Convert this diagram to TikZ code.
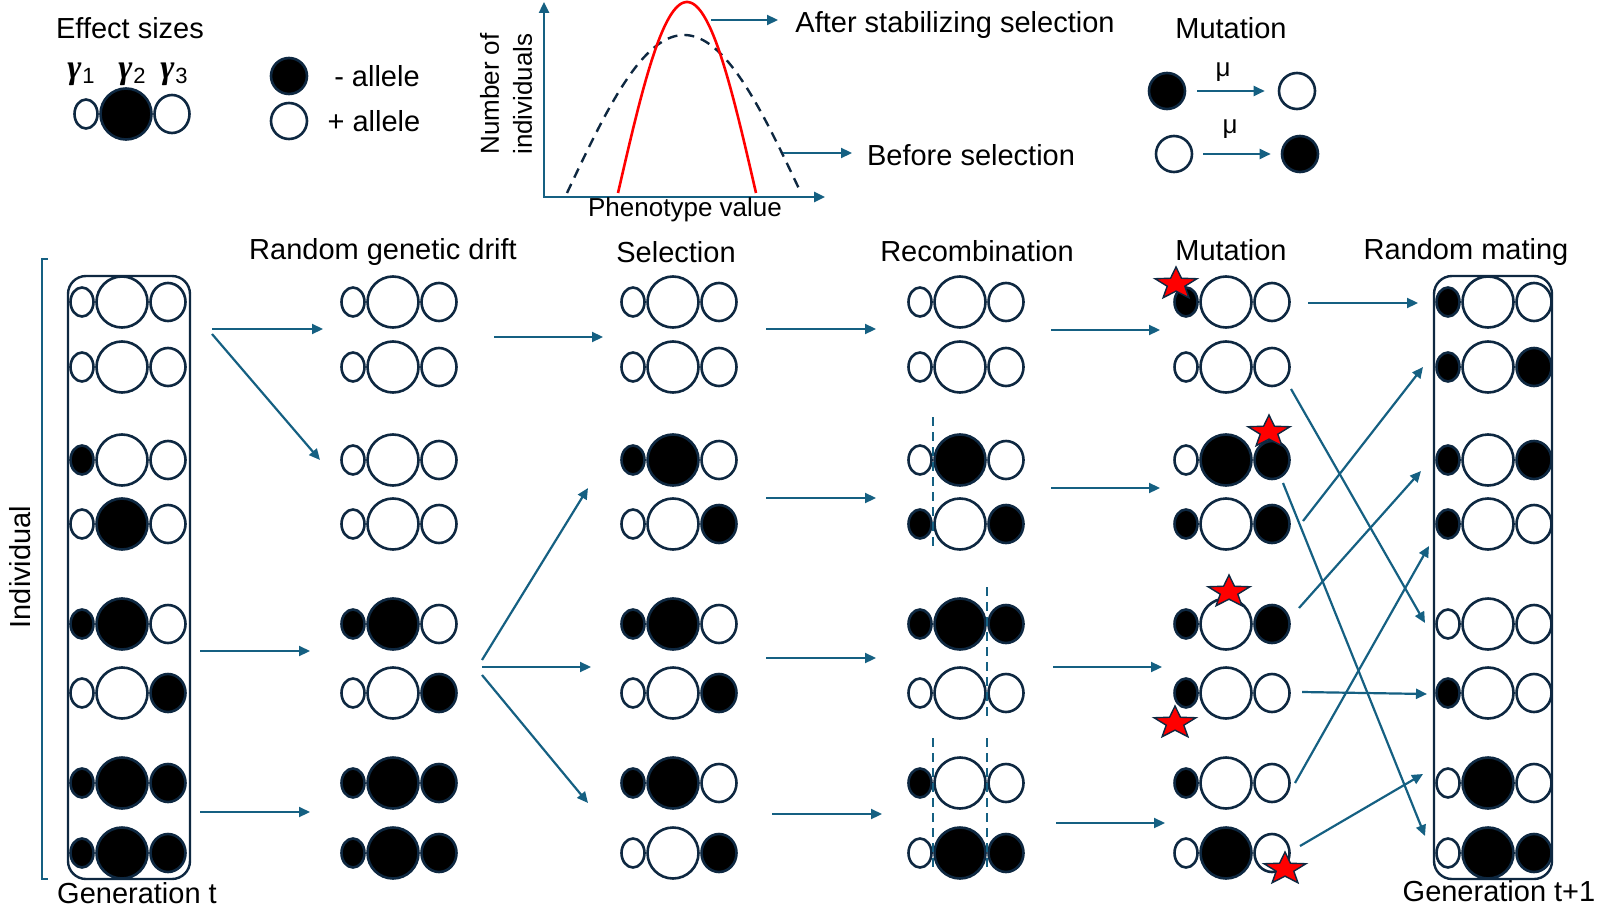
\documentclass[tikz,border=0pt]{standalone}
\usepackage{fontspec}
\setmainfont{Liberation Sans}
\newfontfamily\gfont{Liberation Serif}
\usetikzlibrary{arrows.meta,shapes.geometric}
\definecolor{arrowblue}{HTML}{156082}
\definecolor{outl}{HTML}{0E2841}
\colorlet{B}{black}
\colorlet{W}{white}
\newcommand{\chrom}[6]{%
  \node[allele, minimum width=23pt, minimum height=29pt, fill=#4] (#1a) at ({#2-40},#3) {};
  \node[allele, minimum width=35pt, minimum height=38pt, fill=#6] (#1c) at ({#2+46},#3) {};
  \node[allele, minimum size=51pt, fill=#5] (#1b) at (#2,#3) {};
}
\newcommand{\redstar}[2]{%
  \begin{scope}[shift={(#1,#2)}, xscale=22, yscale=17]
    \draw[mstar] (270:1) -- (306:.42) -- (342:1) -- (18:.42) -- (54:1) -- (90:.42)
      -- (126:1) -- (162:.42) -- (198:1) -- (234:.42) -- cycle;
  \end{scope}
}
\newcommand{\gam}[1]{{\gfont\bfseries\itshape γ}\kern1pt\raisebox{-5pt}{\fontsize{22}{24}\selectfont #1}}
\begin{document}
\begin{tikzpicture}[x=1pt,y=-1pt,
  allele/.style={ellipse, draw=outl, line width=2.6pt, inner sep=0pt, outer sep=0pt},
  arr/.style={draw=arrowblue, line width=2.2pt, -{Triangle[length=11pt,width=10pt]}},
  lbl/.style={inner sep=0pt, font=\fontsize{29}{34}\selectfont},
  slbl/.style={inner sep=0pt, font=\fontsize{26}{33}\selectfont},
  gsty/.style={inner sep=0pt, font=\fontsize{34}{40}\selectfont},
  genbox/.style={draw=outl, line width=2.4pt, rounded corners=18pt, inner sep=0pt},
  cut/.style={draw=arrowblue, line width=2.2pt, dash pattern=on 9pt off 6pt},
  mstar/.style={fill=red, draw=outl, line width=1.4pt, line join=miter},
  dot/.style={circle, draw=outl, line width=2.6pt, minimum size=36pt, inner sep=0pt},
]
\useasboundingbox (0,0) rectangle (1600,909);

% ---------- legend: effect sizes ----------
\node[lbl] (tEff) at (130,28) {Effect sizes};
\node[gsty] (g1) at (81,74) {\gam{1}};
\node[gsty] (g2) at (132,74) {\gam{2}};
\node[gsty] (g3) at (174,74) {\gam{3}};
\chrom{leg}{126}{114}{W}{B}{W}

\node[dot, fill=black] (dMinus) at (289,76) {};
\node[dot, fill=white] (dPlus) at (289,121) {};
\node[lbl] (tMinus) at (377,76) {- allele};
\node[lbl] (tPlus) at (374,121) {+ allele};

% ---------- legend: selection graph ----------
\coordinate (ytop) at (544,2);
\coordinate (orig) at (544,197);
\coordinate (xend) at (825,197);
\draw[draw=arrowblue, line width=2.4pt, {Triangle[length=11pt,width=10pt]}-{Triangle[length=11pt,width=10pt]}] (ytop) -- (orig) -- (xend);
\draw[outl, line width=2.4pt, dash pattern=on 10pt off 7pt]
  plot[domain=-117:117, samples=80, smooth] ({684+\x},{193-158*cos(90*\x/117)});
\draw[red, line width=2.6pt]
  plot[domain=-69:69, samples=80, smooth] ({687+\x},{193-191*cos(90*\x/69)});
\node[slbl, rotate=90, align=center] (tNum) at (506,94) {Number of\\individuals};
\node[slbl] (tPhen) at (685,210) {Phenotype value};
\coordinate (asS) at (711,20);
\coordinate (asE) at (778,20);
\draw[arr] (asS) -- (asE);
\node[lbl] (tAfter) at (955,25) {After stabilizing selection};
\coordinate (bsS) at (783,153);
\coordinate (bsE) at (852,153);
\draw[arr] (bsS) -- (bsE);
\node[lbl] (tBefore) at (971,155) {Before selection};

% ---------- legend: mutation ----------
\node[lbl] (tMutL) at (1231,28) {Mutation};
\node[dot, fill=black] (m1a) at (1167,91) {};
\node[dot, fill=white] (m1b) at (1297,91) {};
\node[dot, fill=white] (m2a) at (1174,154) {};
\node[dot, fill=black] (m2b) at (1300,154) {};
\draw[arr, shorten <=11pt, shorten >=13pt] (m1a.east) -- (m1b.west);
\draw[arr, shorten <=10pt, shorten >=10pt] (m2a.east) -- (m2b.west);
\node[slbl, anchor=base] (mu1) at (1223,77) {μ};
\node[slbl, anchor=base] (mu2) at (1230,134) {μ};

% ---------- headers ----------
\node[lbl] (hDrift) at (383,252) {Random genetic drift};
\node[lbl] (hSel) at (676,252) {Selection};
\node[lbl] (hRec) at (977,251) {Recombination};
\node[lbl] (hMut) at (1231,250) {Mutation};
\node[lbl] (hMat) at (1466,252) {Random mating};
\node[lbl] (hGt) at (137,893) {Generation t};
\node[lbl] (hGt1) at (1499,891) {Generation t+1};
\node[lbl, rotate=90] (hInd) at (20,567) {Individual};
\draw[arrowblue, line width=1.8pt] (48,259) -- (42,259) -- (42,879) -- (48,879);

% ---------- generation boxes ----------
\node[genbox, minimum width=122pt, minimum height=603pt] (box1) at (129,577.5) {};
\node[genbox, minimum width=118pt, minimum height=603pt] (box6) at (1493,577.5) {};

% ---------- column 1: generation t ----------
\chrom{c1r1}{122}{302}{W}{W}{W}
\chrom{c1r2}{122}{367}{W}{W}{W}
\chrom{c1r3}{122}{460}{B}{W}{W}
\chrom{c1r4}{122}{524}{W}{B}{W}
\chrom{c1r5}{122}{624}{B}{B}{W}
\chrom{c1r6}{122}{693}{W}{W}{B}
\chrom{c1r7}{122}{783}{B}{B}{B}
\chrom{c1r8}{122}{853}{B}{B}{B}
% ---------- column 2: drift ----------
\chrom{c2r1}{393}{302}{W}{W}{W}
\chrom{c2r2}{393}{367}{W}{W}{W}
\chrom{c2r3}{393}{460}{W}{W}{W}
\chrom{c2r4}{393}{524}{W}{W}{W}
\chrom{c2r5}{393}{624}{B}{B}{W}
\chrom{c2r6}{393}{693}{W}{W}{B}
\chrom{c2r7}{393}{783}{B}{B}{B}
\chrom{c2r8}{393}{853}{B}{B}{B}
% ---------- column 3: selection ----------
\chrom{c3r1}{673}{302}{W}{W}{W}
\chrom{c3r2}{673}{367}{W}{W}{W}
\chrom{c3r3}{673}{460}{B}{B}{W}
\chrom{c3r4}{673}{524}{W}{W}{B}
\chrom{c3r5}{673}{624}{B}{B}{W}
\chrom{c3r6}{673}{693}{W}{W}{B}
\chrom{c3r7}{673}{783}{B}{B}{W}
\chrom{c3r8}{673}{853}{W}{W}{B}
% ---------- column 4: recombination ----------
\chrom{c4r1}{960}{302}{W}{W}{W}
\chrom{c4r2}{960}{367}{W}{W}{W}
\chrom{c4r3}{960}{460}{W}{B}{W}
\chrom{c4r4}{960}{524}{B}{W}{B}
\chrom{c4r5}{960}{624}{B}{B}{B}
\chrom{c4r6}{960}{693}{W}{W}{W}
\chrom{c4r7}{960}{783}{B}{W}{W}
\chrom{c4r8}{960}{853}{W}{B}{B}
\draw[cut] (933,417) -- (933,550);
\draw[cut] (987,587) -- (987,720);
\draw[cut] (933,738) -- (933,872);
\draw[cut] (987,738) -- (987,872);
% ---------- column 5: mutation ----------
\chrom{c5r1}{1226}{302}{B}{W}{W}
\chrom{c5r2}{1226}{367}{W}{W}{W}
\chrom{c5r3}{1226}{460}{W}{B}{B}
\chrom{c5r4}{1226}{524}{B}{W}{B}
\chrom{c5r5}{1226}{624}{B}{W}{B}
\chrom{c5r6}{1226}{693}{B}{W}{W}
\chrom{c5r7}{1226}{783}{B}{W}{W}
\chrom{c5r8}{1226}{853}{W}{B}{W}
\redstar{1176}{284}
\redstar{1269}{432}
\redstar{1229}{592}
\redstar{1175}{723}
\redstar{1285}{869}
% ---------- column 6: generation t+1 ----------
\chrom{c6r1}{1488}{302}{B}{W}{W}
\chrom{c6r2}{1488}{367}{B}{W}{B}
\chrom{c6r3}{1488}{460}{B}{W}{B}
\chrom{c6r4}{1488}{524}{B}{W}{W}
\chrom{c6r5}{1488}{624}{W}{W}{W}
\chrom{c6r6}{1488}{693}{B}{W}{W}
\chrom{c6r7}{1488}{783}{W}{B}{W}
\chrom{c6r8}{1488}{853}{W}{B}{B}

% ---------- connectors ----------
% gen t -> drift
\coordinate (a1s) at (212,329); \coordinate (a1e) at (323,329);
\coordinate (a2s) at (212,334); \coordinate (a2e) at (320,460);
\coordinate (a3s) at (200,651); \coordinate (a3e) at (310,651);
\coordinate (a4s) at (200,812); \coordinate (a4e) at (310,812);
\draw[arr] (a1s) -- (a1e);
\draw[arr] (a2s) -- (a2e);
\draw[arr] (a3s) -- (a3e);
\draw[arr] (a4s) -- (a4e);
% drift -> selection
\coordinate (b1s) at (494,337); \coordinate (b1e) at (603,337);
\coordinate (b2s) at (482,660); \coordinate (b2e) at (588,488);
\coordinate (b3s) at (482,667); \coordinate (b3e) at (591,667);
\coordinate (b4s) at (482,675); \coordinate (b4e) at (588,803);
\draw[arr] (b1s) -- (b1e);
\draw[arr] (b2s) -- (b2e);
\draw[arr] (b3s) -- (b3e);
\draw[arr] (b4s) -- (b4e);
% selection -> recombination
\coordinate (d1s) at (766,329); \coordinate (d1e) at (876,329);
\coordinate (d2s) at (766,498); \coordinate (d2e) at (876,498);
\coordinate (d3s) at (766,658); \coordinate (d3e) at (876,658);
\coordinate (d4s) at (772,814); \coordinate (d4e) at (882,814);
\draw[arr] (d1s) -- (d1e);
\draw[arr] (d2s) -- (d2e);
\draw[arr] (d3s) -- (d3e);
\draw[arr] (d4s) -- (d4e);
% recombination -> mutation
\coordinate (e1s) at (1051,330); \coordinate (e1e) at (1160,330);
\coordinate (e2s) at (1051,488); \coordinate (e2e) at (1160,488);
\coordinate (e3s) at (1053,667); \coordinate (e3e) at (1162,667);
\coordinate (e4s) at (1056,823); \coordinate (e4e) at (1165,823);
\draw[arr] (e1s) -- (e1e);
\draw[arr] (e2s) -- (e2e);
\draw[arr] (e3s) -- (e3e);
\draw[arr] (e4s) -- (e4e);
% mutation -> random mating
\coordinate (f1s) at (1308,303); \coordinate (f1e) at (1418,303);
\coordinate (f2s) at (1291,389); \coordinate (f2e) at (1425,623);
\coordinate (f3s) at (1283,483); \coordinate (f3e) at (1425,836);
\coordinate (f4s) at (1303,521); \coordinate (f4e) at (1423,367);
\coordinate (f5s) at (1299,608); \coordinate (f5e) at (1421,471);
\coordinate (f6s) at (1302,692); \coordinate (f6e) at (1427,694);
\coordinate (f7s) at (1295,783); \coordinate (f7e) at (1429,546);
\coordinate (f8s) at (1300,846); \coordinate (f8e) at (1423,774);
\foreach \i in {1,...,8}{\draw[arr] (f\i s) -- (f\i e);}
\end{tikzpicture}
\end{document}
